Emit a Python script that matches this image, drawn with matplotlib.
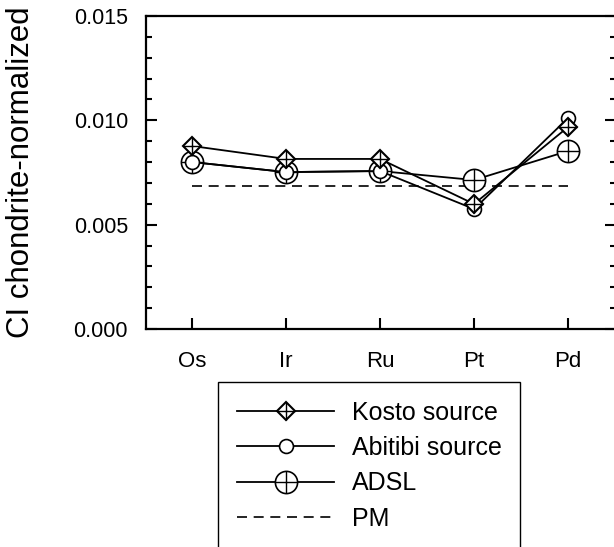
import numpy as np
import matplotlib
matplotlib.use("Agg")
import matplotlib.pyplot as plt
from matplotlib.legend_handler import HandlerTuple

plt.rcParams["font.family"] = ["Liberation Sans", "DejaVu Sans"]

# ==========================
# 1. DATA
# ==========================
elements = ["Os", "Ir", "Ru", "Pt", "Pd"]
kosto = [0.00877, 0.00815, 0.00815, 0.00599, 0.00968]
abitibi = [0.00800, 0.00752, 0.00757, 0.00575, 0.01011]
adsl = [0.00800, 0.00752, 0.00757, 0.00714, 0.00853]
pm = [0.00685, 0.00685, 0.00685, 0.00685, 0.00685]

x = np.arange(len(elements))

# ==========================
# 2. PLOT
# ==========================
fig = plt.figure(figsize=(6.14, 5.47), dpi=100)
ax = fig.add_axes([146 / 614, 1 - 329 / 547, 470 / 614, 313 / 547])

pm_line, = ax.plot(x, pm, color="black", linewidth=1.2, dashes=(6, 4))

adsl_line, = ax.plot(x, adsl, color="black", linewidth=1.3, marker="o",
                     markersize=16, markerfacecolor="white", markeredgewidth=1.2)
adsl_plus, = ax.plot(x, adsl, linestyle="none", marker="+", markersize=16,
                     color="black", markeredgewidth=1.0)

abi_line, = ax.plot(x, abitibi, color="black", linewidth=1.3, marker="o",
                    markersize=10, markerfacecolor="white", markeredgewidth=1.2)

kos_line, = ax.plot(x, kosto, color="black", linewidth=1.3, marker="D",
                    markersize=9, markerfacecolor="white", markeredgewidth=1.5)
kos_plus, = ax.plot(x, kosto, linestyle="none", marker="+", markersize=12.5,
                    color="black", markeredgewidth=1.0)

# ==========================
# 3. AXES FORMAT
# ==========================
ax.set_xlim(-0.489, 4.51)
ax.set_ylim(0, 0.015)
ax.set_xticks(x)
ax.set_xticklabels(elements)
ax.set_yticks([0.0, 0.005, 0.010, 0.015])
ax.set_yticklabels(["0.000", "0.005", "0.010", "0.015"])
ax.set_yticks(np.arange(0, 0.0151, 0.001), minor=True)
ax.tick_params(axis="y", which="major", direction="in", right=True,
               length=8, width=1.5, labelsize=15.5, pad=13)
ax.tick_params(axis="y", which="minor", direction="in", right=True,
               length=4, width=1.5)
ax.tick_params(axis="x", which="major", direction="in", length=8,
               width=1.5, labelsize=16, pad=16)
for spine in ax.spines.values():
    spine.set_linewidth(1.6)

fig.text(21 / 614, 1 - 172 / 547, "CI chondrite-normalized", rotation=90,
         ha="center", va="center", fontsize=22.5)

# ==========================
# 4. LEGEND
# ==========================
leg = fig.legend([(kos_line, kos_plus), abi_line, (adsl_line, adsl_plus), pm_line],
                 ["Kosto source", "Abitibi source", "ADSL", "PM"],
                 handler_map={tuple: HandlerTuple(ndivide=1, pad=0)},
                 loc="upper left", bbox_to_anchor=(218 / 614, 1 - 382 / 547),
                 borderaxespad=0, borderpad=0.75, fontsize=18, handlelength=3.9,
                 handletextpad=0.7, labelspacing=0.45, fancybox=False,
                 edgecolor="black", framealpha=1)
leg.get_frame().set_linewidth(1.0)

plt.savefig("out.png", dpi=100)
